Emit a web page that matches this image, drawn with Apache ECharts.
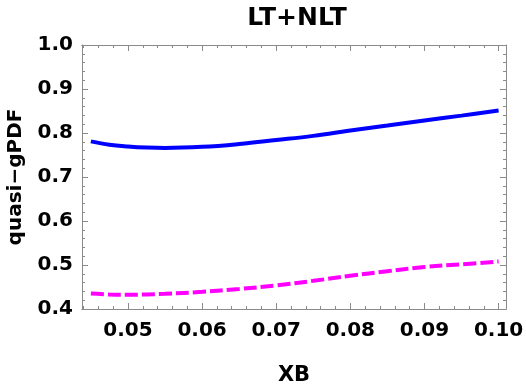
<!DOCTYPE html>
<html><head><meta charset="utf-8">
<script src="https://cdn.jsdelivr.net/npm/echarts@6/dist/echarts.min.js"></script>
<style>html,body{margin:0;padding:0;background:#fff}#c{width:526px;height:385px}</style>
</head><body><div id="c"></div>
<script>
const xb = [0.045, 0.0475, 0.05, 0.0525, 0.055, 0.06, 0.065, 0.07, 0.075, 0.08, 0.085, 0.09, 0.095, 0.1];
const ltNlt = [0.781, 0.7735, 0.7695, 0.767, 0.766, 0.7685, 0.775, 0.784, 0.7935, 0.8055, 0.817, 0.8285, 0.8395, 0.851];
const ltNltDashed = [0.435, 0.433, 0.4325, 0.433, 0.4345, 0.439, 0.4455, 0.4535, 0.464, 0.4755, 0.486, 0.4955, 0.5015, 0.508];
const xMajor = [0.05, 0.06, 0.07, 0.08, 0.09, 0.1];
const xMinor = [0.044,0.046,0.048,0.052,0.054,0.056,0.058,0.062,0.064,0.066,0.068,0.072,0.074,0.076,0.078,0.082,0.084,0.086,0.088,0.092,0.094,0.096,0.098];

const gray = '#8a8a8a';
const font = 'DejaVu Sans, sans-serif';
const xMin = 0.0438, xMax = 0.101;
function xAx(pos, ticks, len, labels) {
  return {
    type: 'value', position: pos, min: xMin, max: xMax,
    axisLine: { show: true, lineStyle: { color: gray, width: 1 } },
    axisTick: { show: true, inside: true, length: len, customValues: ticks, lineStyle: { color: gray } },
    axisLabel: labels ? {
      show: true, customValues: xMajor, margin: 12,
      fontFamily: font, fontWeight: 'bold', fontSize: 20, color: '#000',
      formatter: v => v.toFixed(2)
    } : { show: false },
    splitLine: { show: false },
    name: labels ? 'XB' : '', nameLocation: 'middle', nameGap: 56,
    nameTextStyle: { fontFamily: font, fontWeight: 'bold', fontSize: 21, color: '#000' }
  };
}
function yAx(pos, labels) {
  return {
    type: 'value', position: pos, min: 0.4, max: 1.0, interval: 0.1,
    axisLine: { show: true, lineStyle: { color: gray, width: 1 } },
    axisTick: { show: true, inside: true, length: 6, lineStyle: { color: gray } },
    minorTick: { show: true, splitNumber: 5, length: 3, lineStyle: { color: gray } },
    axisLabel: labels ? {
      show: true, margin: 9, fontFamily: font, fontWeight: 'bold', fontSize: 20, color: '#000',
      formatter: v => v.toFixed(1)
    } : { show: false },
    splitLine: { show: false },
    name: labels ? 'quasi\u2212gPDF' : '', nameLocation: 'middle', nameGap: 56,
    nameTextStyle: { fontFamily: font, fontWeight: 'bold', fontSize: 20, color: '#000' }
  };
}
const chart = echarts.init(document.getElementById('c'), null, { renderer: 'canvas' });
chart.setOption({
  animation: false,
  backgroundColor: '#fff',
  title: { text: 'LT+NLT', left: 292, top: 1, textAlign: 'center',
    textStyle: { fontFamily: font, fontWeight: 'bold', fontSize: 25, color: '#000' } },
  grid: { left: 82, right: 20, top: 45, bottom: 76, containLabel: false, outerBoundsMode: 'none' },
  xAxis: [
    xAx('bottom', xMajor, 6, true),
    xAx('bottom', xMinor, 3, false),
    xAx('top', xMajor, 6, false),
    xAx('top', xMinor, 3, false)
  ],
  yAxis: [yAx('left', true), yAx('right', false)],
  series: [
    { type: 'line', name: 'solid', xAxisIndex: 0, yAxisIndex: 0, smooth: 0.4, showSymbol: false,
      data: xb.map((x, i) => [x, ltNlt[i]]),
      lineStyle: { color: '#0000ff', width: 4 } },
    { type: 'line', name: 'dashed', xAxisIndex: 0, yAxisIndex: 0, smooth: 0.4, showSymbol: false,
      data: xb.map((x, i) => [x, ltNltDashed[i]]),
      lineStyle: { color: '#ff00ff', width: 4, type: [13, 4] } }
  ]
});
</script></body></html>
